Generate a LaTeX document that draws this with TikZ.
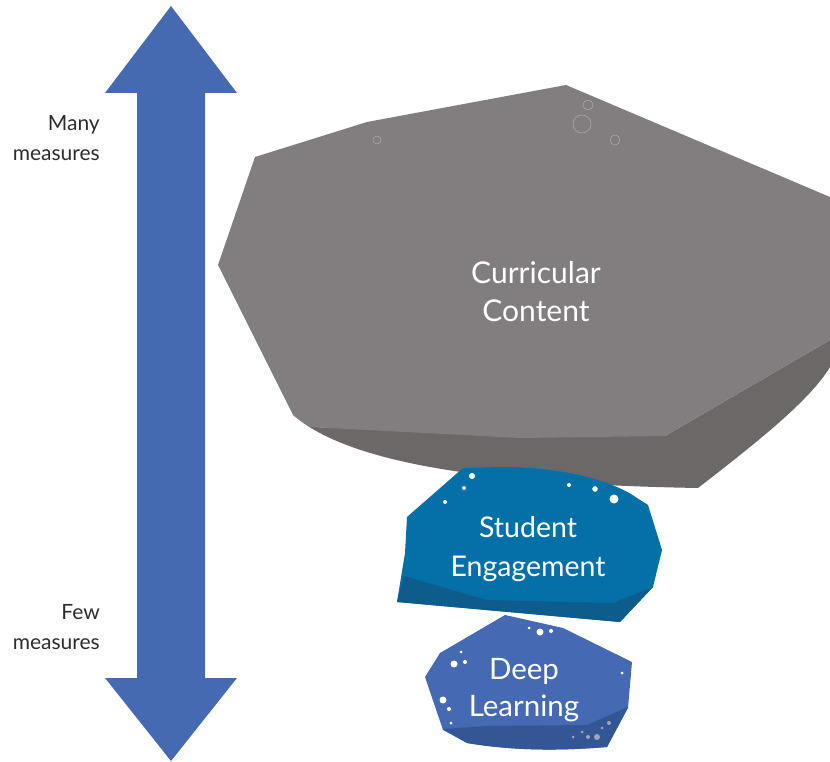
\documentclass[tikz,border=0pt]{standalone}
\usepackage{fontspec}
\setmainfont{Lato}
\definecolor{arrowblue}{RGB}{69,106,178}
\definecolor{graylight}{RGB}{130,126,127}
\definecolor{graydark}{RGB}{108,104,103}
\definecolor{tealmain}{RGB}{5,112,167}
\definecolor{tealdark}{RGB}{14,92,140}
\definecolor{bluemain}{RGB}{69,105,178}
\definecolor{bluedark}{RGB}{50,87,148}
\definecolor{ringgray}{RGB}{178,175,176}
\definecolor{dotgray}{RGB}{160,165,185}
\definecolor{sidetext}{RGB}{45,45,45}
\tikzset{
  rocklabel/.style={text=white, align=center, inner sep=0pt},
  sidelabel/.style={text=sidetext, align=right, anchor=east, inner sep=0pt, font=\fontsize{21}{30}\selectfont},
  ring/.style={draw=ringgray, line width=0.5pt},
  wdot/.style={fill=white},
  gdot/.style={fill=dotgray}
}
\begin{document}
\begin{tikzpicture}[x=1pt,y=-1pt]
\useasboundingbox (0,0) rectangle (830,762);
% double arrow
\fill[arrowblue] (171,6) -- (237,93) -- (205,93) -- (205,678) -- (237,678) -- (171,761)
  -- (105,678) -- (137,678) -- (137,93) -- (105,93) -- cycle;
\node[sidelabel] (many) at (100,138) {Many\\measures};
\node[sidelabel] (few) at (100,627) {Few\\measures};
% curricular content rock
\begin{scope}
\clip (0,0) rectangle (830,762);
\fill[graydark] (293,415) -- (310,427) -- (665,436) -- (830,340) -- (860,322) -- (860,345)
  -- (830,367) .. controls (810,400) and (760,440) .. (698,488)
  .. controls (470,484) and (345,460) .. (293,415) -- cycle;
\fill[graylight] (218,265) -- (255,157) -- (367,122) -- (566,85) -- (830,197) -- (860,210)
  -- (860,322) -- (830,340) -- (665,436) -- (520,438) -- (310,427) -- (293,415) -- cycle;
\end{scope}
\draw[ring] (377,140) circle (4);
\draw[ring] (588,105) circle (5);
\draw[ring] (582,124) circle (9);
\draw[ring] (615,140) circle (5);
\node[rocklabel, font=\fontsize{30}{38}\selectfont] (curr) at (536,292) {Curricular\\Content};
% student engagement rock
\fill[tealmain] (463,468) -- (503,467) .. controls (565,467) and (615,482) .. (637,498)
  -- (648,505) -- (662,550) -- (653,587) -- (620,622) -- (397,602) -- (405,553) -- (407,517) -- cycle;
\fill[tealdark] (404,576) -- (487,600) -- (613,603) -- (653,587) -- (620,622) -- (397,602) -- cycle;
\fill[wdot] (472,476) circle (3);
\fill[wdot] (464,488) circle (2);
\fill[wdot] (445,502) circle (2);
\fill[wdot] (569,485) circle (2);
\fill[wdot] (595,489) circle (2.8);
\fill[wdot] (614,499) circle (4.5);
\node[rocklabel, font=\fontsize{28.5}{39}\selectfont] (se) at (528,549) {Student\\Engagement};
% deep learning rock
\fill[bluemain] (505,615) -- (563,628) -- (632,662) -- (628,708) -- (607,747)
  .. controls (570,750) and (520,752) .. (467,743) -- (443,730) -- (425,677) -- (440,653) -- cycle;
\fill[bluedark] (443,729) -- (487,726) -- (587,725) -- (628,707) -- (607,747)
  .. controls (570,750) and (520,752) .. (467,743) -- cycle;
\fill[wdot] (454,664) circle (3.5);
\fill[wdot] (465,662) circle (2);
\fill[wdot] (461,652) circle (1.5);
\fill[wdot] (443,700) circle (3.5);
\fill[wdot] (449,709) circle (2);
\fill[wdot] (451,723) circle (1.5);
\fill[wdot] (529,628) circle (1.5);
\fill[wdot] (540,632) circle (3.5);
\fill[wdot] (551,631) circle (2);
\fill[wdot] (622,673) circle (1.5);
\fill[gdot] (573,737) circle (1.5);
\fill[gdot] (582,732) circle (1.5);
\fill[gdot] (588,737) circle (2);
\fill[gdot] (597,737) circle (3);
\fill[gdot] (602,728) circle (1.5);
\fill[gdot] (609,723) circle (2);
\node[rocklabel, font=\fontsize{29.5}{37}\selectfont] (dl) at (524,690) {Deep\\Learning};
\end{tikzpicture}
\end{document}
